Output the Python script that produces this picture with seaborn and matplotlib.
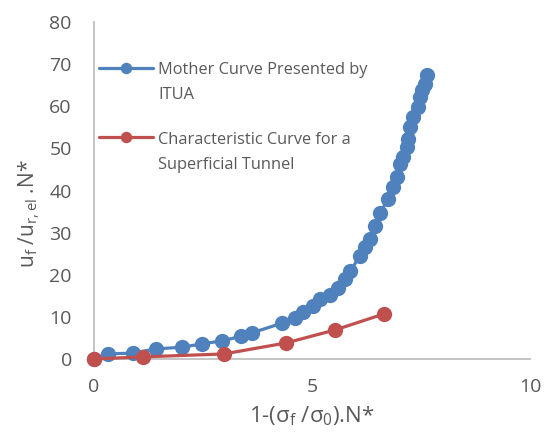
import matplotlib
matplotlib.use("Agg")
import matplotlib.pyplot as plt
import matplotlib.transforms as mtransforms
from matplotlib.legend_handler import HandlerLine2D
import seaborn as sns
import pandas as pd

# Mother curve (ITUA)
mother_x = [0.0, 0.32, 0.89, 1.42, 2.02, 2.48, 2.94, 3.37, 3.62, 4.31, 4.61, 4.79,
            5.02, 5.18, 5.41, 5.60, 5.76, 5.87, 6.10, 6.22, 6.33, 6.44, 6.56, 6.74,
            6.86, 6.95, 7.02, 7.09, 7.18, 7.20, 7.25, 7.32, 7.43, 7.48, 7.52, 7.59, 7.64]
mother_y = [0.0, 1.2, 1.4, 2.4, 2.8, 3.6, 4.3, 5.4, 6.2, 8.5, 9.7, 11.1,
            12.5, 14.2, 15.1, 16.8, 18.9, 20.8, 24.4, 26.7, 28.4, 31.5, 34.6, 37.9,
            40.9, 43.3, 46.2, 48.0, 50.4, 52.3, 55.1, 57.5, 59.9, 62.2, 63.9, 65.3, 67.4]

# Characteristic curve for a superficial tunnel
tunnel_x = [0.0, 1.12, 2.98, 4.40, 5.53, 6.65]
tunnel_y = [0.0, 0.5, 1.2, 3.8, 6.9, 10.7]

labels = ["Mother Curve Presented by\nITUA", "Characteristic Curve for a\nSuperficial Tunnel"]
COLORS = {"mother": "#4F81BD", "tunnel": "#C0504D", "text": "#595959", "axis": "#BFBFBF"}


class TopLineHandler(HandlerLine2D):
    # put the legend handle next to the first text line, like Excel does
    def create_artists(self, legend, orig_handle, xdescent, ydescent,
                       width, height, fontsize, trans):
        artists = super().create_artists(legend, orig_handle, xdescent, ydescent,
                                         width, height, fontsize, trans)
        shift = mtransforms.Affine2D().translate(0, 0.95 * fontsize)
        for a in artists:
            a.set_transform(shift + trans)
        return artists


sns.set_theme(style="white")
plt.rcParams["font.family"] = ["Open Sans", "DejaVu Sans"]
plt.rcParams["mathtext.fontset"] = "custom"
plt.rcParams["mathtext.rm"] = "Open Sans"
plt.rcParams["mathtext.it"] = "Open Sans"

fig = plt.figure(figsize=(5.48, 4.37), dpi=100)
ax = fig.add_axes([94 / 548, 1 - 359 / 437, (530 - 94) / 548, (359 - 22) / 437])

mother = pd.DataFrame({"x": mother_x, "y": mother_y})
tunnel = pd.DataFrame({"x": tunnel_x, "y": tunnel_y})

sns.lineplot(data=mother, x="x", y="y", estimator=None, sort=False, ax=ax,
             color=COLORS["mother"], linewidth=2.3, marker="o", markersize=11,
             markeredgewidth=0, label=labels[0], clip_on=False, zorder=3)
sns.lineplot(data=tunnel, x="x", y="y", estimator=None, sort=False, ax=ax,
             color=COLORS["tunnel"], linewidth=2.3, marker="o", markersize=11,
             markeredgewidth=0, label=labels[1], clip_on=False, zorder=4)

ax.set_xlim(0, 10)
ax.set_ylim(0, 80)
ax.set_xticks([0, 5, 10])
ax.set_yticks(range(0, 81, 10))

for side in ["top", "right"]:
    ax.spines[side].set_visible(False)
for side in ["left", "bottom"]:
    ax.spines[side].set_color(COLORS["axis"])
    ax.spines[side].set_linewidth(1.3)

ax.tick_params(axis="y", length=0, labelsize=14, colors=COLORS["text"], pad=16)
ax.tick_params(axis="x", length=0, labelsize=14, colors=COLORS["text"], pad=14)

ax.set_xlabel(r"1-($\mathregular{\sigma_f}$ /$\mathregular{\sigma_0}$).N*",
              fontsize=16, color=COLORS["text"])
ax.set_ylabel(r"u$_\mathregular{f}$ /u$_\mathregular{r,el}$ .N*",
              fontsize=15, color=COLORS["text"])
ax.xaxis.set_label_coords(0.5, -0.135)
ax.yaxis.set_label_coords(-0.12, 0.43)

leg = ax.legend(loc="upper left", bbox_to_anchor=(0.012, 0.88), frameon=False,
                fontsize=11.8, labelcolor=COLORS["text"], handlelength=3.3,
                handletextpad=0.3, labelspacing=1.75, markerscale=0.75,
                borderaxespad=0, borderpad=0,
                handler_map={ln: TopLineHandler() for ln in ax.get_lines()})
for t in leg.get_texts():
    t.set_linespacing(1.75)

fig.savefig("out.png", dpi=100)
plt.close(fig)
